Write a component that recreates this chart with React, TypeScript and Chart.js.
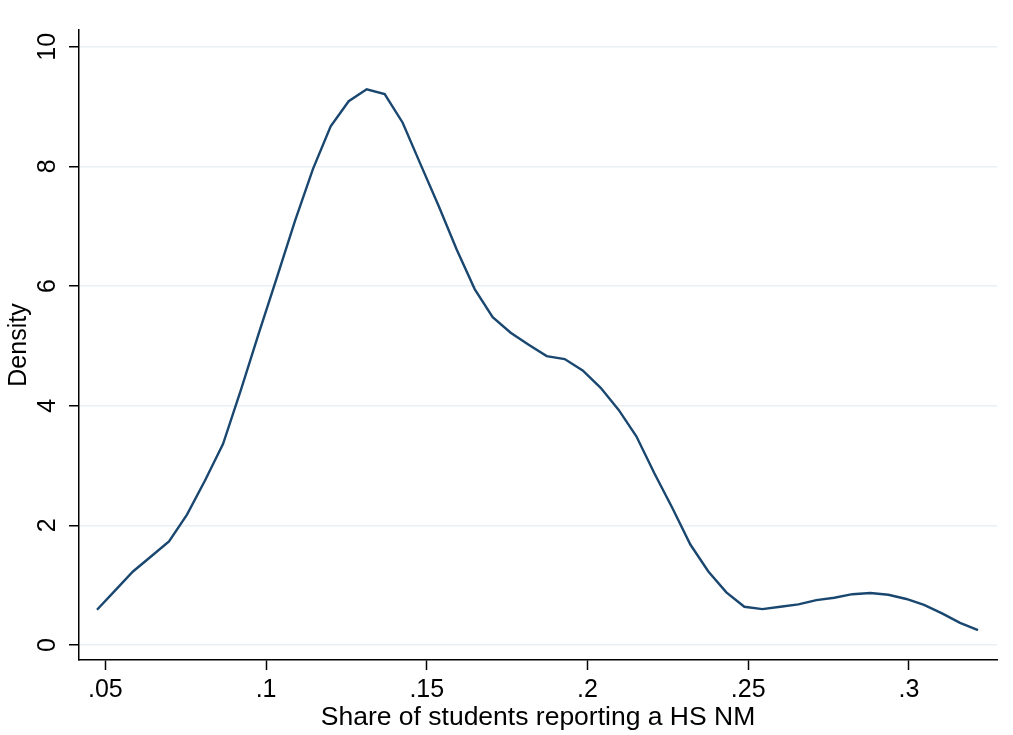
import React, { useEffect, useRef } from 'react';
import { Chart, registerables } from 'chart.js';

Chart.register(...registerables);

// Estimation points (share of students reporting a HS NM)
const shareValues = [
  0.0474, 0.0530, 0.0586, 0.0642, 0.0698, 0.0754, 0.0810, 0.0866, 0.0922, 0.0978,
  0.1034, 0.1090, 0.1146, 0.1201, 0.1257, 0.1313, 0.1369, 0.1425, 0.1481, 0.1537,
  0.1593, 0.1649, 0.1705, 0.1761, 0.1817, 0.1873, 0.1929, 0.1985, 0.2041, 0.2097,
  0.2152, 0.2208, 0.2264, 0.2320, 0.2376, 0.2432, 0.2488, 0.2544, 0.2600, 0.2656,
  0.2712, 0.2768, 0.2824, 0.2880, 0.2936, 0.2992, 0.3047, 0.3103, 0.3159, 0.3215,
];

// Kernel density estimates
const densityValues = [
  0.59, 0.91, 1.23, 1.48, 1.73, 2.18, 2.75, 3.36, 4.27, 5.22,
  6.15, 7.09, 7.96, 8.67, 9.09, 9.29, 9.21, 8.73, 8.03, 7.34,
  6.61, 5.95, 5.48, 5.22, 5.02, 4.83, 4.78, 4.59, 4.30, 3.93,
  3.49, 2.87, 2.29, 1.68, 1.23, 0.88, 0.64, 0.60, 0.64, 0.68,
  0.75, 0.79, 0.85, 0.87, 0.84, 0.77, 0.67, 0.53, 0.37, 0.25,
];

const xTickValues = [0.05, 0.1, 0.15, 0.2, 0.25, 0.3];
const xTickLabels = ['.05', '.1', '.15', '.2', '.25', '.3'];
const yTickValues = [0, 2, 4, 6, 8, 10];
const yTickLabels = ['0', '2', '4', '6', '8', '10'];

const xTitle = 'Share of students reporting a HS NM';
const yTitle = 'Density';

const FONT = "'Liberation Sans', Arial, Helvetica, sans-serif";
const LINE_COLOR = '#1a476f';
const GRID_COLOR = '#e9f0f3';

function labelFor(values: number[], labels: string[], v: number): string {
  const i = values.findIndex((t) => Math.abs(t - v) < 1e-9);
  return i >= 0 ? labels[i] : '';
}

export default function App() {
  const canvasRef = useRef<HTMLCanvasElement | null>(null);

  useEffect(() => {
    if (!canvasRef.current) return;
    const points = shareValues.map((x, i) => ({ x, y: densityValues[i] }));
    const chart = new Chart(canvasRef.current, {
      type: 'line',
      data: {
        datasets: [
          {
            data: points,
            borderColor: LINE_COLOR,
            borderWidth: 2.4,
            pointRadius: 0,
            tension: 0,
            fill: false,
          },
        ],
      },
      options: {
        animation: false,
        responsive: true,
        maintainAspectRatio: false,
        layout: { padding: { top: 30, right: 16, left: 0, bottom: 0 } },
        plugins: { legend: { display: false }, tooltip: { enabled: false } },
        scales: {
          x: {
            type: 'linear',
            min: 0.0418,
            max: 0.3274,
            afterBuildTicks: (scale: any) => {
              scale.ticks = xTickValues.map((v) => ({ value: v }));
            },
            afterFit: (scale: any) => {
              scale.height = 75;
            },
            ticks: {
              color: '#000',
              font: { family: FONT, size: 25 },
              padding: 5,
              maxRotation: 0,
              minRotation: 0,
              autoSkip: false,
              callback: (v: any) => labelFor(xTickValues, xTickLabels, Number(v)),
            },
            grid: {
              drawOnChartArea: false,
              drawTicks: true,
              tickLength: 10,
              tickColor: '#000',
              tickWidth: 1.5,
            },
            border: { display: true, color: '#000', width: 1.5 },
            title: {
              display: true,
              text: xTitle,
              color: '#000',
              font: { family: FONT, size: 26.5 },
              padding: { top: 0, bottom: 1 },
            },
          },
          y: {
            type: 'linear',
            min: -0.25,
            max: 10.28,
            afterBuildTicks: (scale: any) => {
              scale.ticks = yTickValues.map((v) => ({ value: v }));
            },
            afterFit: (scale: any) => {
              scale.width = 79;
            },
            ticks: {
              color: '#000',
              font: { family: FONT, size: 25 },
              padding: 7,
              minRotation: 90,
              maxRotation: 90,
              crossAlign: 'center',
              autoSkip: false,
              callback: (v: any) => labelFor(yTickValues, yTickLabels, Number(v)),
            },
            grid: {
              color: GRID_COLOR,
              lineWidth: 1.5,
              drawTicks: true,
              tickLength: 10,
              tickColor: '#000',
              tickWidth: 1.5,
            },
            border: { display: true, color: '#000', width: 1.5 },
            title: {
              display: true,
              text: yTitle,
              color: '#000',
              font: { family: FONT, size: 25 },
              padding: { top: 4, bottom: 0 },
            },
          },
        },
      },
    } as any);
    return () => chart.destroy();
  }, []);

  return (
    <div
      style={{
        position: 'fixed',
        left: 0,
        top: 0,
        width: 1013,
        height: 735,
        background: '#fff',
      }}
    >
      <canvas ref={canvasRef} />
    </div>
  );
}
